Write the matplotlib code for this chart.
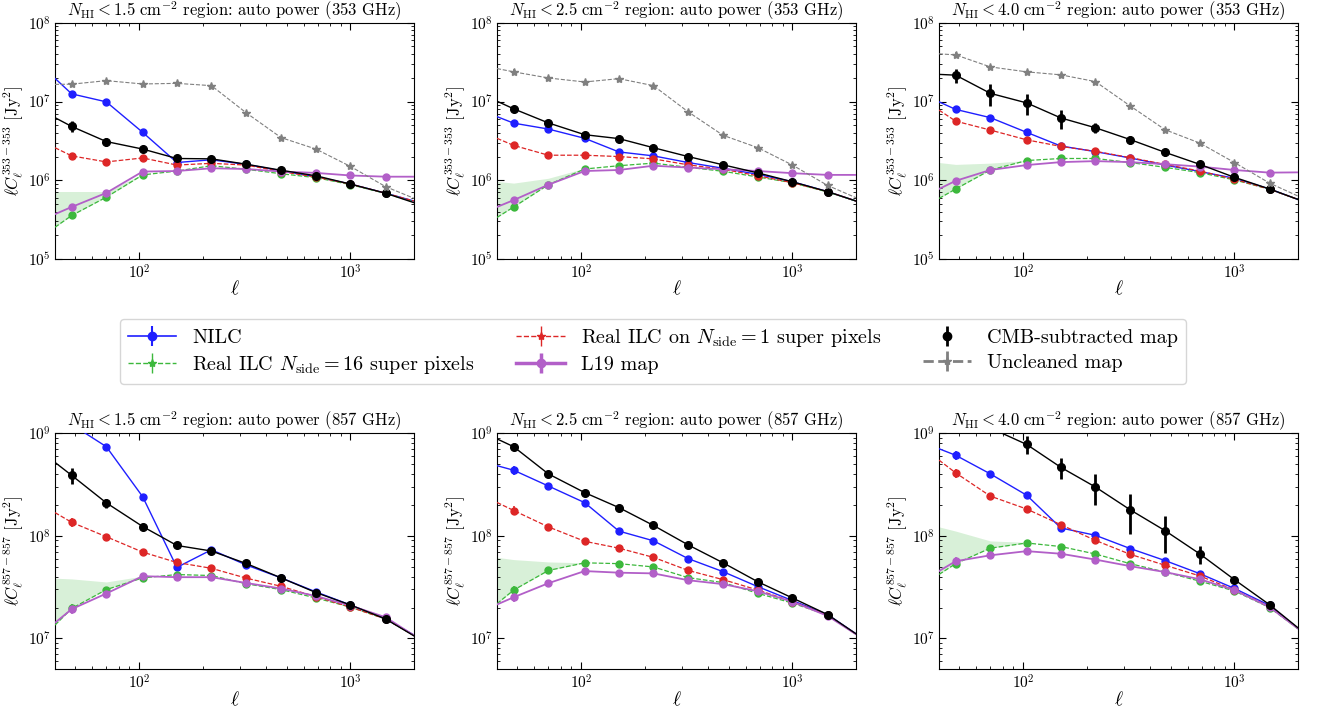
import numpy as np
import matplotlib
matplotlib.use("Agg")
import matplotlib.pyplot as plt

plt.rcParams['font.family'] = ['cmr10', 'DejaVu Serif']
plt.rcParams['mathtext.fontset'] = 'cm'
plt.rcParams['axes.formatter.use_mathtext'] = True
plt.rcParams['axes.unicode_minus'] = False

# multipoles: first and last entries are the line ends at the axis edges (no marker)
ell = [40, 48, 70, 104, 151, 220, 321, 470, 687, 1000, 1467, 2000]
cuts = ["1.5", "2.5", "4.0"]

# ---- 353 GHz auto power ----
nilc_353 = {
    "1.5": [1.97e7, 1.25e7, 9.9e6, 4.06e6, 1.68e6, 1.82e6, 1.59e6, 1.32e6, 1.11e6, 8.95e5, 6.85e5, 5.45e5],
    "2.5": [6.43e6, 5.31e6, 4.47e6, 3.41e6, 2.29e6, 2.04e6, 1.68e6, 1.42e6, 1.19e6, 9.57e5, 7.18e5, 5.45e5],
    "4.0": [9.9e6, 7.94e6, 6.24e6, 4.06e6, 2.72e6, 2.31e6, 1.92e6, 1.56e6, 1.29e6, 1.06e6, 7.75e5, 5.7e5],
}
ilc16_353 = {
    "1.5": [2.53e5, 3.57e5, 6.1e5, 1.17e6, 1.31e6, 1.53e6, 1.38e6, 1.21e6, 1.08e6, 8.8e5, 6.8e5, 5.3e5],
    "2.5": [3.37e5, 4.58e5, 8.77e5, 1.39e6, 1.53e6, 1.65e6, 1.46e6, 1.3e6, 1.10e6, 9.3e5, 7.1e5, 5.45e5],
    "4.0": [5.87e5, 7.75e5, 1.35e6, 1.78e6, 1.89e6, 1.89e6, 1.68e6, 1.46e6, 1.25e6, 1.01e6, 7.7e5, 5.7e5],
}
ilc16_up_353 = {
    "1.5": [7.2e5, 7.2e5, 7.2e5, 1.2e6],
    "2.5": [9.66e5, 9.2e5, 1.06e6, 1.42e6],
    "4.0": [1.68e6, 1.59e6, 1.65e6, 1.78e6],
}
ilc1_353 = {
    "1.5": [2.59e6, 2.04e6, 1.71e6, 1.92e6, 1.56e6, 1.64e6, 1.56e6, 1.29e6, 1.10e6, 8.95e5, 6.85e5, 5.45e5],
    "2.5": [3.41e6, 2.77e6, 2.08e6, 2.08e6, 2.0e6, 1.87e6, 1.57e6, 1.38e6, 1.14e6, 9.3e5, 7.18e5, 5.45e5],
    "4.0": [7.79e6, 5.63e6, 4.34e6, 3.26e6, 2.69e6, 2.33e6, 1.94e6, 1.59e6, 1.31e6, 1.03e6, 7.7e5, 5.7e5],
}
l19_353 = {
    "1.5": [3.71e5, 4.58e5, 6.91e5, 1.29e6, 1.31e6, 1.42e6, 1.39e6, 1.29e6, 1.24e6, 1.15e6, 1.11e6, 1.11e6],
    "2.5": [4.58e5, 5.6e5, 8.77e5, 1.31e6, 1.35e6, 1.53e6, 1.45e6, 1.38e6, 1.31e6, 1.23e6, 1.17e6, 1.17e6],
    "4.0": [7.75e5, 9.84e5, 1.35e6, 1.56e6, 1.70e6, 1.75e6, 1.70e6, 1.6e6, 1.49e6, 1.35e6, 1.25e6, 1.26e6],
}
cmb_353 = {
    "1.5": [6.24e6, 4.82e6, 3.1e6, 2.49e6, 1.89e6, 1.87e6, 1.6e6, 1.34e6, 1.14e6, 8.95e5, 6.85e5, 5.19e5],
    "2.5": [1.01e7, 8.07e6, 5.35e6, 3.79e6, 3.38e6, 2.59e6, 2.0e6, 1.57e6, 1.24e6, 9.57e5, 7.18e5, 5.45e5],
    "4.0": [2.21e7, 2.16e7, 1.27e7, 9.6e6, 6.18e6, 4.64e6, 3.29e6, 2.26e6, 1.59e6, 1.09e6, 7.75e5, 5.7e5],
}
raw_353 = {
    "1.5": [1.65e7, 1.66e7, 1.84e7, 1.67e7, 1.70e7, 1.59e7, 7.2e6, 3.48e6, 2.49e6, 1.50e6, 8.3e5, 5.9e5],
    "2.5": [2.62e7, 2.38e7, 1.99e7, 1.77e7, 1.95e7, 1.59e7, 7.4e6, 3.72e6, 2.59e6, 1.56e6, 8.6e5, 6.0e5],
    "4.0": [4.03e7, 3.91e7, 2.75e7, 2.38e7, 2.18e7, 1.79e7, 8.8e6, 4.38e6, 2.96e6, 1.68e6, 9.2e5, 6.3e5],
}

# ---- 857 GHz auto power ----
nilc_857 = {
    "1.5": [1.53e9, 1.21e9, 7.36e8, 2.4e8, 4.92e7, 7.3e7, 5.2e7, 3.89e7, 2.84e7, 2.12e7, 1.55e7, 1.08e7],
    "2.5": [4.81e8, 4.34e8, 3.05e8, 2.1e8, 1.11e8, 8.93e7, 5.99e7, 4.47e7, 3.19e7, 2.34e7, 1.71e7, 1.11e7],
    "4.0": [7.03e8, 6.07e8, 4.0e8, 2.48e8, 1.19e8, 1.01e8, 7.51e7, 5.73e7, 4.27e7, 3.07e7, 2.1e7, 1.25e7],
}
ilc16_857 = {
    "1.5": [1.35e7, 1.96e7, 2.99e7, 3.89e7, 4.19e7, 4.1e7, 3.41e7, 2.99e7, 2.48e7, 2.02e7, 1.55e7, 1.07e7],
    "2.5": [2.18e7, 2.96e7, 4.59e7, 5.45e7, 5.35e7, 4.97e7, 3.91e7, 3.5e7, 2.75e7, 2.21e7, 1.69e7, 1.1e7],
    "4.0": [4.2e7, 5.35e7, 7.57e7, 8.5e7, 7.85e7, 6.64e7, 5.35e7, 4.43e7, 3.61e7, 2.9e7, 2.0e7, 1.24e7],
}
ilc16_up_857 = {
    "1.5": [3.86e7, 3.8e7, 3.55e7, 4.04e7],
    "2.5": [6.16e7, 5.86e7, 5.56e7, 5.45e7],
    "4.0": [1.22e8, 1.11e8, 8.9e7, 8.63e7],
}
ilc1_857 = {
    "1.5": [1.68e8, 1.35e8, 9.78e7, 6.93e7, 5.49e7, 4.82e7, 3.87e7, 3.22e7, 2.55e7, 2.02e7, 1.55e7, 1.07e7],
    "2.5": [2.11e8, 1.76e8, 1.22e8, 8.83e7, 7.57e7, 6.16e7, 4.6e7, 3.74e7, 2.96e7, 2.29e7, 1.69e7, 1.1e7],
    "4.0": [5.45e8, 4.09e8, 2.43e8, 1.82e8, 1.28e8, 9.01e7, 6.6e7, 5.16e7, 4.06e7, 2.96e7, 2.05e7, 1.25e7],
}
l19_857 = {
    "1.5": [1.42e7, 1.93e7, 2.74e7, 4.04e7, 3.95e7, 3.95e7, 3.47e7, 3.06e7, 2.59e7, 2.09e7, 1.61e7, 1.07e7],
    "2.5": [2.14e7, 2.52e7, 3.45e7, 4.53e7, 4.37e7, 4.3e7, 3.69e7, 3.38e7, 2.88e7, 2.28e7, 1.66e7, 1.1e7],
    "4.0": [4.53e7, 5.65e7, 6.45e7, 7.08e7, 6.68e7, 5.86e7, 5.06e7, 4.43e7, 3.77e7, 2.96e7, 2.02e7, 1.25e7],
}
cmb_857 = {
    "1.5": [5.18e8, 3.87e8, 2.09e8, 1.23e8, 8.04e7, 7.1e7, 5.37e7, 3.89e7, 2.8e7, 2.12e7, 1.55e7, 1.06e7],
    "2.5": [8.77e8, 7.35e8, 4.0e8, 2.63e8, 1.88e8, 1.26e8, 8.15e7, 5.45e7, 3.56e7, 2.48e7, 1.71e7, 1.11e7],
    "4.0": [1.8e9, 1.5e9, 1.12e9, 7.74e8, 4.63e8, 2.98e8, 1.79e8, 1.12e8, 6.64e7, 3.74e7, 2.13e7, 1.27e7],
}

# fractional 1-sigma errors on the marked points (ell[1:-1])
err_cmb = {
    ("353", "1.5"): [0.16, 0.12, 0.05, 0.03, 0.02, 0.02, 0.01, 0.01, 0.01, 0.01],
    ("353", "2.5"): [0.08, 0.05, 0.04, 0.03, 0.02, 0.02, 0.01, 0.01, 0.01, 0.01],
    ("353", "4.0"): [0.2, 0.3, 0.3, 0.28, 0.15, 0.12, 0.1, 0.05, 0.03, 0.02],
    ("857", "1.5"): [0.17, 0.1, 0.06, 0.03, 0.02, 0.02, 0.01, 0.01, 0.01, 0.01],
    ("857", "2.5"): [0.08, 0.05, 0.04, 0.03, 0.02, 0.02, 0.01, 0.01, 0.01, 0.01],
    ("857", "4.0"): [0.05, 0.05, 0.2, 0.23, 0.33, 0.42, 0.4, 0.2, 0.03, 0.02],
}
err_small = [0.1, 0.04, 0.03, 0.02, 0.01, 0.01, 0.01, 0.01, 0.01, 0.01]
err_raw = [0.08, 0.03, 0.02, 0.02, 0.02, 0.02, 0.01, 0.01, 0.01, 0.01]

labels = ["NILC",
          r"Real ILC $N_{\rm side}=16$ super pixels",
          r"Real ILC on $N_{\rm side}=1$ super pixels",
          "L19 map",
          "CMB-subtracted map",
          "Uncleaned map"]

c_nilc = "#1f1fff"
c_ilc16 = "#3cb83c"
c_ilc1 = "#dd2626"
c_l19 = "#b25fc8"
c_cmb = "black"
c_raw = "#808080"

fig = plt.figure(figsize=(13.21, 7.11), dpi=100)

lefts = [0.0416, 0.3762, 0.7108]
width = 0.2718
bottoms = {"353": 0.6357, "857": 0.0585}
heights = {"353": 0.3323, "857": 0.3325}


def draw(ax, x, y, err, color, ls, marker, ms, lw, elw=1.2):
    y = np.asarray(y)
    yerr = np.r_[0.0, err, 0.0] * y
    return ax.errorbar(x, y, yerr=yerr, color=color, ls=ls, lw=lw, marker=marker,
                       ms=ms, markevery=slice(1, -1), elinewidth=elw,
                       capsize=0, zorder=3)


for freq in ["353", "857"]:
    for j, cut in enumerate(cuts):
        ax = fig.add_axes([lefts[j], bottoms[freq], width, heights[freq]])
        if freq == "353":
            nilc, i16, i16up, i1, l19, cmb = (nilc_353, ilc16_353, ilc16_up_353,
                                              ilc1_353, l19_353, cmb_353)
        else:
            nilc, i16, i16up, i1, l19, cmb = (nilc_857, ilc16_857, ilc16_up_857,
                                              ilc1_857, l19_857, cmb_857)

        # green uncertainty band at low ell
        nb = len(i16up[cut])
        ax.fill_between(ell[:nb], i16[cut][:nb], i16up[cut], color=c_ilc16,
                        alpha=0.2, lw=0, zorder=1)

        draw(ax, ell, nilc[cut], err_small, c_nilc, "-", "o", 5, 1.0)
        draw(ax, ell, i16[cut], err_small, c_ilc16, "--", "o", 5, 0.9)
        draw(ax, ell, i1[cut], err_small, c_ilc1, "--", "o", 5, 0.9)
        draw(ax, ell, l19[cut], err_small, c_l19, "-", "o", 5, 1.3)
        draw(ax, ell, cmb[cut], err_cmb[(freq, cut)], c_cmb, "-", "o", 5.5, 1.0, elw=2.0)
        if freq == "353":
            draw(ax, ell, raw_353[cut], err_raw, c_raw, "--", "*", 6, 0.8)

        ax.set_xscale("log")
        ax.set_yscale("log")
        ax.set_xlim(40, 2000)
        if freq == "353":
            ax.set_ylim(1e5, 1e8)
        else:
            ax.set_ylim(5e6, 1e9)
        ax.tick_params(which="both", direction="in", top=True, right=True, labelsize=11, pad=3)
        ax.tick_params(which="major", length=5)
        ax.tick_params(which="minor", length=2.5)
        ax.set_xlabel(r"$\ell$", fontsize=14, labelpad=-1)
        ax.set_ylabel(r"$\ell C_\ell^{%s-%s}$ [Jy$^2$]" % (freq, freq), fontsize=12, labelpad=2)
        ax.set_title(r"$N_{\rm HI}<%s\ {\rm cm}^{-2}$ region: auto power (%s GHz)" % (cut, freq),
                     fontsize=12, pad=-0.5)

# legend proxies (styled like the legend of the original figure)
pax = fig.add_axes([0, 0, 0.01, 0.01])
pax.set_axis_off()
nan = [np.nan]
proxies = [
    pax.errorbar(nan, nan, yerr=nan, color=c_nilc, ls="-", lw=1.2, marker="o", ms=6, elinewidth=1.5),
    pax.errorbar(nan, nan, yerr=nan, color=c_ilc16, ls="--", lw=1.0, marker="*", ms=6, elinewidth=1.0),
    pax.errorbar(nan, nan, yerr=nan, color=c_ilc1, ls="--", lw=1.0, marker="*", ms=6, elinewidth=1.0),
    pax.errorbar(nan, nan, yerr=nan, color=c_l19, ls="-", lw=2.5, marker="o", ms=6, elinewidth=2.5),
    pax.errorbar(nan, nan, yerr=nan, color=c_cmb, ls="none", marker="o", ms=6, elinewidth=2.0),
    pax.errorbar(nan, nan, yerr=nan, color=c_raw, ls="--", lw=2.0, marker="*", ms=6, elinewidth=2.0),
]

fig.legend(handles=proxies, labels=labels, loc="center", ncol=3, mode="expand",
           bbox_to_anchor=(0.0908, 0.4585, 0.807, 0.0945), fontsize=14.5,
           handlelength=2.4, labelspacing=0.35, borderaxespad=0.0, frameon=True)

fig.savefig("out.png", dpi=100)
